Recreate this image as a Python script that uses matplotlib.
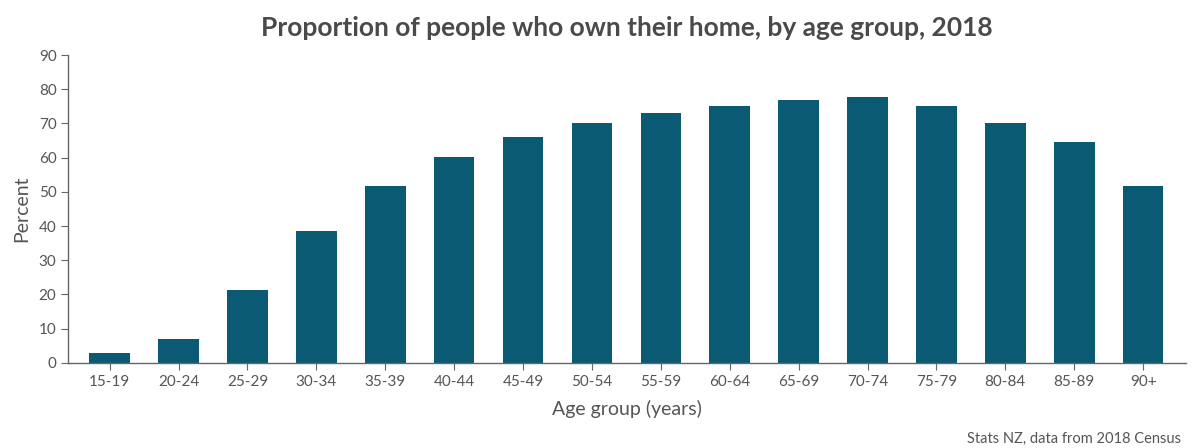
import matplotlib.pyplot as plt
import numpy as np

# age groups and home ownership rate (%)
age_groups = ["15-19", "20-24", "25-29", "30-34", "35-39", "40-44", "45-49", "50-54",
              "55-59", "60-64", "65-69", "70-74", "75-79", "80-84", "85-89", "90+"]
percent = [2.9, 7.0, 21.3, 38.7, 51.6, 60.2, 66.1, 70.0,
           73.1, 75.0, 76.9, 77.8, 75.0, 70.2, 64.7, 51.7]

bar_color = "#0b5a73"
text_color = "#555555"

plt.rcParams['font.family'] = ['Lato', 'DejaVu Sans']

fig = plt.figure(figsize=(11.99, 4.48), dpi=100)
ax = fig.add_axes([0.057, 0.19, 0.932, 0.687])

x = np.arange(len(age_groups))
ax.bar(x, percent, width=0.59, color=bar_color)

ax.set_xlim(-0.6, 15.62)
ax.set_ylim(0, 90)
ax.set_yticks(range(0, 91, 10))
ax.set_xticks(x)
ax.set_xticklabels(age_groups)

for s in ["top", "right"]:
    ax.spines[s].set_visible(False)
for s in ["left", "bottom"]:
    ax.spines[s].set_color("#666666")
    ax.spines[s].set_linewidth(1.0)

ax.tick_params(axis='both', colors="#666666", labelcolor=text_color, labelsize=11, length=5)

ax.set_ylabel("Percent", fontsize=14, color=text_color, labelpad=6)
ax.set_xlabel("Age group (years)", fontsize=14, color=text_color, labelpad=8)
ax.set_title("Proportion of people who own their home, by age group, 2018",
             fontsize=19, fontweight="bold", color="#4a4a4a", pad=14)

fig.text(0.985, 0.005, "Stats NZ, data from 2018 Census", ha="right", va="bottom",
         fontsize=10.5, color=text_color)

fig.savefig("out.png", dpi=100)
